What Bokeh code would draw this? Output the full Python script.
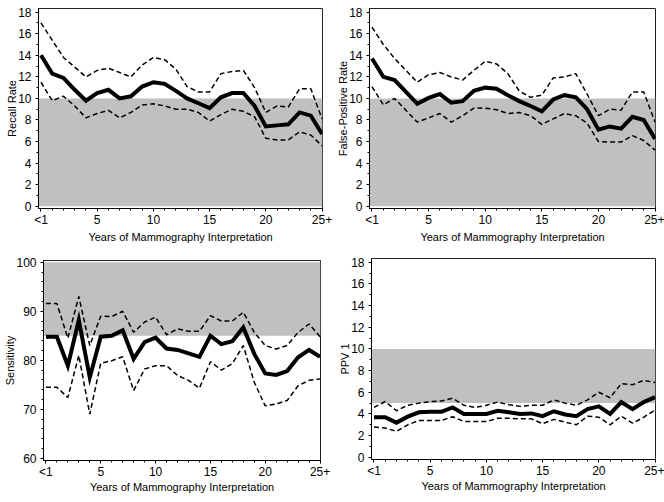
from bokeh.plotting import figure
from bokeh.layouts import gridplot
from bokeh.models import FixedTicker, BoxAnnotation, Range1d
from bokeh.embed import file_html
from bokeh.resources import INLINE

years = list(range(26))
x_tick_labels = {0: "<1", 5: "5", 10: "10", 15: "15", 20: "20", 25: "25+"}
x_label = "Years of Mammography Interpretation"

recall_mid = [14.0, 12.3, 11.9, 10.8, 9.8, 10.5, 10.8, 10.0, 10.2, 11.1, 11.5, 11.35, 10.7,
              10.0, 9.55, 9.1, 10.1, 10.5, 10.5, 9.3, 7.4, 7.5, 7.6, 8.7, 8.4, 6.7]
recall_hi = [17.0, 15.4, 13.8, 12.9, 12.0, 12.6, 12.8, 12.4, 12.0, 13.1, 13.8, 13.6, 12.7,
             11.1, 10.6, 10.6, 12.3, 12.5, 12.6, 11.0, 8.7, 9.3, 9.2, 10.9, 10.9, 8.1]
recall_lo = [11.5, 9.8, 10.2, 9.3, 8.2, 8.6, 8.9, 8.2, 8.7, 9.4, 9.5, 9.3, 9.0,
             9.0, 8.7, 7.9, 8.5, 9.0, 8.8, 8.3, 6.3, 6.15, 6.15, 6.9, 6.6, 5.6]

fp_mid = [13.7, 12.0, 11.7, 10.6, 9.5, 10.05, 10.4, 9.6, 9.75, 10.7, 11.0, 10.9, 10.3,
          9.75, 9.3, 8.8, 9.9, 10.3, 10.1, 9.0, 7.1, 7.4, 7.2, 8.3, 8.0, 6.25]
fp_hi = [16.6, 15.0, 13.7, 12.6, 11.5, 12.2, 12.4, 12.0, 11.7, 12.6, 13.45, 13.2, 12.3,
         10.7, 10.1, 10.3, 11.9, 12.0, 12.3, 10.4, 8.4, 9.0, 8.9, 10.6, 10.6, 7.8]
fp_lo = [11.1, 9.4, 10.0, 8.9, 7.8, 8.2, 8.6, 7.8, 8.4, 9.1, 9.1, 8.95, 8.6,
         8.7, 8.4, 7.6, 8.1, 8.6, 8.4, 7.7, 6.0, 5.95, 5.95, 6.55, 6.1, 5.2]

sens_mid = [84.8, 84.8, 78.9, 88.2, 76.5, 84.8, 85.0, 86.1, 80.3, 83.7, 84.6, 82.4, 82.1,
            81.4, 80.7, 85.0, 83.3, 83.9, 86.7, 81.3, 77.3, 77.0, 77.8, 80.6, 82.1, 80.7]
sens_hi = [91.6, 91.6, 84.5, 93.0, 83.0, 89.0, 88.9, 90.0, 85.7, 87.8, 88.8, 85.2, 86.4,
           85.9, 85.9, 89.1, 88.0, 88.0, 89.8, 85.7, 83.0, 82.3, 83.0, 85.7, 87.4, 84.8]
sens_lo = [74.5, 74.5, 72.4, 81.0, 69.0, 79.4, 79.9, 80.7, 73.8, 78.2, 78.9, 78.9, 76.9,
           75.9, 74.3, 79.7, 78.0, 79.3, 83.0, 75.5, 70.7, 71.1, 71.8, 74.8, 75.9, 76.2]

ppv_mid = [3.7, 3.7, 3.2, 3.75, 4.15, 4.2, 4.2, 4.6, 4.0, 4.0, 4.0, 4.3, 4.15,
           4.0, 4.05, 3.8, 4.25, 3.95, 3.8, 4.45, 4.7, 4.0, 5.1, 4.45, 5.1, 5.55]
ppv_hi = [4.6, 5.15, 4.3, 4.8, 5.0, 5.15, 5.2, 5.45, 4.8, 4.6, 4.8, 5.1, 4.85,
          4.7, 4.8, 4.8, 5.3, 5.0, 4.8, 5.3, 6.0, 5.5, 6.8, 6.7, 7.1, 6.9]
ppv_lo = [2.8, 2.7, 2.4, 3.0, 3.4, 3.4, 3.4, 3.75, 3.3, 3.3, 3.3, 3.6, 3.6,
          3.55, 3.55, 3.1, 3.5, 3.25, 3.0, 3.8, 3.7, 3.0, 3.8, 3.15, 3.7, 4.35]

rate_ticks = list(range(0, 19, 2))
rate_minor = list(range(0, 19))
sens_ticks = [60, 70, 80, 90, 100]
sens_minor = list(range(60, 101, 2))

FONT = "Liberation Sans"
BAND = "#c0c0c0"


def panel(ylabel, mid, hi, lo, band, yr, yticks, yminor, height, borders, xstand):
    left, right, top, bottom = borders
    p = figure(width=332, height=height, output_backend="svg", toolbar_location=None,
               x_range=Range1d(-0.22, 25.04), y_range=Range1d(*yr),
               min_border_left=left, min_border_right=right,
               min_border_top=top, min_border_bottom=bottom)
    p.frame_align = False
    p.grid.visible = False
    p.outline_line_color = "#222222"
    p.outline_line_width = 1
    p.background_fill_color = "white"
    p.border_fill_color = "white"

    p.add_layout(BoxAnnotation(bottom=band[0], top=band[1], fill_color=BAND,
                               fill_alpha=1.0, line_color=None, level="underlay"))

    p.line(years, hi, line_color="black", line_width=1.5, line_dash="5 3")
    p.line(years, lo, line_color="black", line_width=1.5, line_dash="5 3")
    p.line(years, mid, line_color="black", line_width=4.0, line_join="miter")

    p.xaxis.ticker = FixedTicker(ticks=list(x_tick_labels.keys()), minor_ticks=years)
    p.xaxis.major_label_overrides = x_tick_labels
    p.yaxis.ticker = FixedTicker(ticks=yticks, minor_ticks=yminor)
    p.xaxis.axis_label = x_label
    p.yaxis.axis_label = ylabel
    for ax in (p.xaxis[0], p.yaxis[0]):
        ax.axis_line_color = "black"
        ax.major_tick_line_color = "black"
        ax.minor_tick_line_color = "black"
        ax.major_tick_out = 3
        ax.major_tick_in = 0
        ax.minor_tick_out = 2
        ax.minor_tick_in = 0
        ax.major_label_text_font = FONT
        ax.major_label_text_font_size = "12px"
        ax.major_label_text_color = "black"
        ax.axis_label_text_font = FONT
        ax.axis_label_text_font_size = "11px"
        ax.axis_label_text_font_style = "normal"
        ax.axis_label_text_color = "black"
    p.yaxis.major_label_standoff = 4
    p.yaxis.axis_label_standoff = -3
    p.xaxis.major_label_standoff = 1
    p.xaxis.axis_label_standoff = xstand
    return p


p1 = panel("Recall Rate", recall_mid, recall_hi, recall_lo, (0, 10), (-0.21, 18.34),
           rate_ticks, rate_minor, 250, (38, 10, 8, 42), 1)
p2 = panel("False-Positive Rate", fp_mid, fp_hi, fp_lo, (0, 10), (-0.21, 18.34),
           rate_ticks, rate_minor, 250, (37, 9, 8, 42), 1)
p3 = panel("Sensitivity", sens_mid, sens_hi, sens_lo, (85, 100), (59.55, 100.35),
           sens_ticks, sens_minor, 252, (43, 12, 10, 42), -1)
p4 = panel("PPV 1", ppv_mid, ppv_hi, ppv_lo, (5, 10), (-0.2, 18.34),
           rate_ticks, rate_minor, 252, (39, 9, 8, 43), -1)

grid = gridplot([[p1, p2], [p3, p4]], toolbar_location=None)

open("out.html", "w").write(file_html(grid, INLINE))
